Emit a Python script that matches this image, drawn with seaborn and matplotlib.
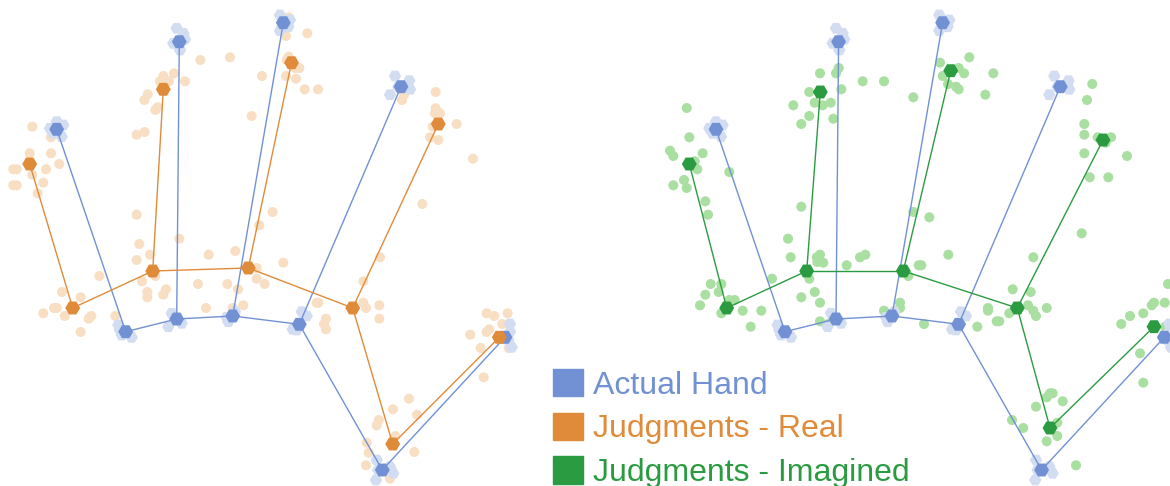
import numpy as np
import pandas as pd
import matplotlib.pyplot as plt
import seaborn as sns
from matplotlib.patches import Patch

sns.set_style("white")
plt.rcParams['font.family'] = ['Liberation Sans', 'DejaVu Sans']

# hand landmarks (image-like units, y grows downward)
landmarks = ["tip1", "tip2", "tip3", "tip4", "kn1", "kn2", "kn3", "kn4", "wrist", "thumb"]
actual_x = [56.7, 179.3, 283.3, 401.0, 125.7, 176.7, 232.7, 299.3, 382.3, 505.0]
actual_y = [129.3, 41.7, 22.7, 86.7, 331.7, 319.0, 316.0, 324.3, 470.0, 337.3]
real_x = [29.7, 163.3, 291.5, 438.3, 72.7, 152.7, 248.3, 352.7, 392.7, 499.3]
real_y = [164.0, 89.3, 62.7, 124.0, 308.0, 271.0, 268.0, 308.0, 444.0, 337.3]
imag_x = [30.0, 161.0, 291.4, 443.7, 67.4, 147.4, 244.0, 358.0, 390.7, 494.7]
imag_y = [164.0, 92.0, 70.7, 140.0, 308.0, 271.0, 271.0, 308.0, 428.0, 326.7]

edges = [("tip1", "kn1"), ("tip2", "kn2"), ("tip3", "kn3"), ("tip4", "kn4"),
         ("kn1", "kn2"), ("kn2", "kn3"), ("kn3", "kn4"), ("kn4", "wrist"), ("wrist", "thumb")]

# repeated measurements of the actual hand
halo = [(56.7, 121.7), (50, 128.3), (63.3, 125), (61.7, 136.7), (53.3, 133.3),
        (176.7, 28.3), (183.3, 33.3), (173.3, 43.3), (185, 39.3), (180, 50),
        (280, 15), (288.3, 26.7), (280, 30.7), (290, 20),
        (395, 76), (409.3, 80.7), (390, 94.7), (410, 89.3), (398.3, 86.7),
        (118.3, 325), (131.7, 337.3), (121.7, 335), (120, 330),
        (168.3, 326.7), (181.7, 323.3), (171.7, 313.3),
        (228.3, 321.7), (235, 311.7), (226.7, 317.3),
        (292.7, 329.3), (306.7, 316), (296.7, 330), (301.7, 311.7),
        (376.7, 460), (393.3, 473.3), (376, 480), (390, 466.7), (378.3, 470),
        (510, 324), (508.3, 340), (511.7, 347.3), (510, 331.7)]

# individual judgments - real hand
real_dots = [(32.3, 126.7), (29.7, 153.3), (51, 153.3), (51, 137.3), (59.3, 164), (46, 169.3),
             (13.3, 169.3), (16.7, 169.3), (32.3, 174.7), (43.3, 182.7), (13.3, 185.3),
             (16.7, 185.3), (37.7, 193.3),
             (147.7, 94.3), (144.3, 100), (155.3, 110), (157.7, 107.3), (136.7, 134.7),
             (144.7, 132), (163.3, 76), (160, 81.3), (169, 81.3), (174, 73.3), (185, 81.3),
             (200.3, 60), (230, 57.3), (251.7, 116), (272.7, 212), (259.3, 225.3), (262, 76),
             (286, 76), (296, 78.7), (286.7, 60), (288.7, 17.3), (286, 36), (136.7, 214.7),
             (139.3, 244), (179.3, 238.7), (235.3, 251),
             (307.3, 33.3), (288.7, 56.7), (299.3, 68), (295, 68), (304.7, 89.3), (318, 89.3),
             (402, 100), (404, 95), (435.7, 92), (435.7, 108.3), (440, 113.3), (435, 113.3),
             (456.7, 124), (432.7, 126.7), (430, 137.3), (438.3, 140), (473, 158.7), (422.3, 204),
             (150, 254.7), (136.7, 260), (208.7, 254.7), (283.3, 262.7), (99.3, 276),
             (155.3, 276), (142, 281.3), (198, 284), (227.3, 284), (256.7, 278.7), (256.7, 268),
             (264.7, 284), (238, 289.3), (147.3, 292), (147.3, 297.3), (166, 289.3),
             (163.3, 294.7), (62, 292), (80.7, 297.3), (54, 308), (56.7, 308), (43.3, 313.3),
             (64.7, 316), (91.3, 316), (88.7, 318.7), (115.3, 316), (206, 308), (243.3, 305.3),
             (232.7, 308), (80.7, 332),
             (380, 257.3), (363.3, 281.3), (316.7, 302.7), (318.3, 302.7), (363.3, 302.7),
             (366, 308), (379.3, 305.3), (379.3, 318.7), (326, 318.7), (324, 324), (326, 329.3),
             (486.7, 313.3), (494.3, 316), (507.7, 313.3), (502.3, 324), (489.3, 329.3),
             (486.7, 332), (470.3, 334.7), (480.7, 348), (508.7, 348), (483.7, 377.3),
             (409, 398.7), (393, 409.3), (417, 414.7), (378.7, 420), (376.7, 425.3),
             (395.3, 436), (366.7, 442.7), (368.7, 452.7), (414.3, 452), (366, 465.3), (390, 478.7)]

# individual judgments - imagined hand
imag_dots = [(27.4, 108), (30, 137.3), (10.7, 150.7), (14, 156), (43.4, 153.3), (35.4, 161.3),
             (38, 169.3), (70, 172), (24.7, 180), (14, 185.3), (27.4, 188), (46, 201.3),
             (48.7, 214.7), (160.7, 73.3), (179.4, 68), (176.7, 73.3), (203.4, 81.3),
             (224.7, 81.3), (254, 97.3), (182, 89.3), (150, 92), (155.4, 102.7), (163.4, 105.3),
             (171.4, 102.7), (134, 105.3), (150, 116), (142, 124), (174, 118.7), (142, 206.7),
             (128.7, 238.7), (254, 212),
             (280.7, 62.7), (310, 57.3), (283.4, 76), (299.4, 68), (304.7, 73.3), (334, 73.3),
             (288.7, 84), (296.7, 86.7), (299.4, 89.3), (326, 94.7), (433, 84), (427.7, 100),
             (425, 124), (425, 134.7), (438.4, 137.3), (451.7, 137.3), (446.4, 142.7),
             (425, 153.3), (467.7, 156), (430.4, 177.3), (449, 177.3), (422.4, 233.3),
             (270, 217.3),
             (131.4, 257.3), (157.4, 257.3), (160.7, 254.7), (164, 262.7), (158, 262),
             (187.4, 265.3), (200.7, 257.3), (206, 254.7), (259.4, 265.3), (249, 276),
             (112.7, 278.7), (150, 278.7), (51.4, 284), (62, 284), (46, 294.7), (59.4, 292),
             (155.4, 292), (142, 297.3), (40.7, 305.3), (70, 300), (75.4, 300), (83.4, 310.7),
             (102, 310.7), (160.7, 302.7), (62, 313.3), (91.4, 326.7), (240.7, 302.7),
             (240.7, 308), (224.7, 310.7), (160.7, 321.3), (168.7, 324),
             (289, 254.7), (262, 265.3), (374, 257.3), (264.7, 324), (318, 326.7),
             (328.7, 308), (328.7, 310.7), (337.4, 321.3), (340, 321.3), (350, 313.3),
             (353.4, 289.3), (371.4, 292), (368.7, 305.3), (374, 310.7), (376.7, 316),
             (387.4, 308), (462, 324), (470.7, 316), (484, 313.3), (492.4, 305.3), (494.7, 302.7),
             (505.4, 302.7), (508.7, 284), (505.7, 326.7), (480.7, 353.3), (484, 382.7),
             (390.7, 393.3), (393.4, 393.3), (387.4, 397.3), (403.4, 401.3), (376.7, 406.7),
             (352.7, 420), (364, 428), (398, 422.7), (398, 436), (387.4, 441.3), (416.7, 465.3)]

legend_labels = ["Actual Hand", "Judgments - Real", "Judgments - Imagined"]

blue = "#7191d4"
blue_light = "#d3ddf2"
orange = "#e08b3a"
orange_light = "#f8dec2"
green = "#2b9b42"
green_light = "#a9dfa0"

actual = pd.DataFrame({"lm": landmarks, "x": actual_x, "y": actual_y}).set_index("lm")
real = pd.DataFrame({"lm": landmarks, "x": real_x, "y": real_y}).set_index("lm")
imag = pd.DataFrame({"lm": landmarks, "x": imag_x, "y": imag_y}).set_index("lm")
halo_df = pd.DataFrame(halo, columns=["x", "y"])
real_df = pd.DataFrame(real_dots, columns=["x", "y"])
imag_df = pd.DataFrame(imag_dots, columns=["x", "y"])

W, H = 1170, 486
fig = plt.figure(figsize=(W / 100, H / 100), dpi=100)
panel_w = 660
ax1 = fig.add_axes([0, 0, panel_w / W, 1])
ax2 = fig.add_axes([659.3 / W, 0, panel_w / W, 1])


def draw_hand(ax, mean_df, color, dots_df, dot_color):
    sns.scatterplot(data=dots_df, x="x", y="y", ax=ax, marker="o", s=52,
                    color=dot_color, edgecolor="none", zorder=1)
    sns.scatterplot(data=halo_df, x="x", y="y", ax=ax, marker="H", s=80,
                    color=blue_light, edgecolor="none", zorder=2)
    for a, b in edges:
        ax.plot([actual.loc[a, "x"], actual.loc[b, "x"]],
                [actual.loc[a, "y"], actual.loc[b, "y"]], color=blue, lw=1.0, zorder=3)
        ax.plot([mean_df.loc[a, "x"], mean_df.loc[b, "x"]],
                [mean_df.loc[a, "y"], mean_df.loc[b, "y"]], color=color, lw=1.0, zorder=3)
    sns.scatterplot(data=actual, x="x", y="y", ax=ax, marker="H", s=115,
                    color=blue, edgecolor="none", zorder=4)
    sns.scatterplot(data=mean_df, x="x", y="y", ax=ax, marker="H", s=115,
                    color=color, edgecolor="none", zorder=5)
    ax.set_xlim(0, panel_w)
    ax.set_ylim(H, 0)
    ax.set_axis_off()


draw_hand(ax1, real, orange, real_df, orange_light)
draw_hand(ax2, imag, green, imag_df, green_light)

handles = [Patch(color=c) for c in [blue, orange, green]]
fig.legend(handles, legend_labels, loc="upper left",
           bbox_to_anchor=(553 / W, 1 - 369 / H), frameon=False,
           fontsize=23, labelcolor=[blue, orange, green],
           handlelength=0.93, handleheight=0.93, handletextpad=0.33,
           labelspacing=0.38, borderpad=0, borderaxespad=0)

fig.savefig("out.png", dpi=100)
